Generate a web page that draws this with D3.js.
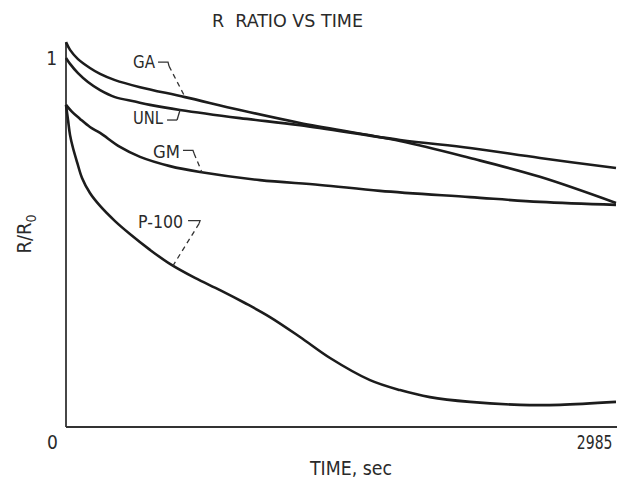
<!DOCTYPE html>
<html>
<head>
<meta charset="utf-8">
<script src="https://cdn.jsdelivr.net/npm/d3@7"></script>
<style>
  html, body { margin: 0; padding: 0; background: #fff; }
  svg text { font-family: "DejaVu Sans Condensed", "DejaVu Sans", sans-serif; fill: #2a2a2a; white-space: pre; }
</style>
</head>
<body>
<svg id="chart" width="617" height="482"></svg>
<script>
// ---- data (time in sec, R/R0) ----
const title = "R  RATIO VS TIME";
const xLabel = "TIME, sec";
const xTicks = [0, 2985];
const yTicks = [1];

const gaTime  = [0, 22, 65, 130, 185, 266, 402, 646, 944, 1270, 1813, 2193, 2572, 2985];
const gaVal   = [1.043, 1.022, 0.997, 0.973, 0.957, 0.940, 0.921, 0.894, 0.859, 0.824, 0.775, 0.729, 0.678, 0.607];

const unlTime = [0, 22, 65, 119, 185, 266, 374, 456, 619, 944, 1270, 1813, 2193, 2572, 2985];
const unlVal  = [1.000, 0.984, 0.959, 0.935, 0.913, 0.894, 0.882, 0.873, 0.859, 0.837, 0.818, 0.778, 0.756, 0.729, 0.702];

const gmTime  = [0, 33, 76, 130, 185, 293, 402, 564, 727, 1053, 1378, 1704, 2193, 2572, 2985];
const gmVal   = [0.873, 0.854, 0.835, 0.813, 0.797, 0.759, 0.732, 0.707, 0.691, 0.669, 0.656, 0.640, 0.623, 0.610, 0.602];

const p100Time = [0, 11, 22, 38, 60, 87, 130, 185, 266, 347, 456, 564, 700, 836, 971, 1107, 1270, 1433, 1650, 1813, 1975, 2193, 2464, 2681, 2985];
const p100Val  = [0.873, 0.832, 0.791, 0.756, 0.718, 0.675, 0.634, 0.599, 0.558, 0.523, 0.480, 0.442, 0.404, 0.371, 0.336, 0.298, 0.244, 0.187, 0.127, 0.100, 0.081, 0.068, 0.060, 0.060, 0.068];

const seriesNames = ["GA", "UNL", "GM", "P-100"];
const labelTimes  = [646, 619, 738, 581];   // where each label's leader touches its curve

// ---- drawing ----
const svg = d3.select("#chart");
const x = d3.scaleLinear().domain([0, 2985]).range([66, 616]);
const y = d3.scaleLinear().domain([0, 1]).range([427, 58]);

const series = [
  { name: "GA", t: gaTime, v: gaVal },
  { name: "UNL", t: unlTime, v: unlVal },
  { name: "GM", t: gmTime, v: gmVal },
  { name: "P-100", t: p100Time, v: p100Val }
].map(s => ({ name: s.name, pts: s.t.map((t, i) => [t, s.v[i]]) }));

function fit(sel, len) { return sel.attr("textLength", len).attr("lengthAdjust", "spacingAndGlyphs"); }

// title
fit(svg.append("text").attr("x", 212).attr("y", 27).attr("font-size", 18).text(title), 151);

// axes
const axisColor = "#333";
const gx = svg.append("g").attr("transform", `translate(0,${y(0)})`)
  .call(d3.axisBottom(x).tickValues(xTicks).tickSize(0).tickPadding(9).tickFormat(d3.format("d")));
gx.select(".domain").remove();
gx.attr("font-family", null);
gx.selectAll(".tick text").attr("font-size", 19).attr("fill", "#2a2a2a")
  .attr("text-anchor", d => d === 0 ? "middle" : "end")
  .attr("dx", d => d === 0 ? -14 : -4 / 0.82)
  .attr("transform", d => d === 0 ? null : "scale(0.82,1)");

const gy = svg.append("g").attr("transform", `translate(${x(0)},0)`)
  .call(d3.axisLeft(y).tickValues(yTicks).tickSize(0).tickPadding(9).tickFormat(d3.format("d")));
gy.select(".domain").remove();
gy.attr("font-family", null);
gy.selectAll(".tick text").attr("font-size", 19).attr("fill", "#2a2a2a");

svg.append("line").attr("x1", x(0)).attr("x2", x(0)).attr("y1", y(0)).attr("y2", y(1.043))
  .attr("stroke", axisColor).attr("stroke-width", 1.8);
svg.append("line").attr("x1", x(0)).attr("x2", 617).attr("y1", y(0)).attr("y2", y(0))
  .attr("stroke", axisColor).attr("stroke-width", 1.8);

// axis titles
fit(svg.append("text").attr("x", 310).attr("y", 475).attr("font-size", 20).text(xLabel), 82);
const yl = svg.append("text").attr("transform", "translate(31,234) rotate(-90)")
  .attr("text-anchor", "middle").attr("font-size", 20);
yl.append("tspan").text("R/R");
yl.append("tspan").attr("font-size", 14).attr("dy", 5).text("0");

// curves
const line = d3.line().x(d => x(d[0])).y(d => y(d[1])).curve(d3.curveCatmullRom.alpha(0.5));
svg.selectAll("path.curve").data(series).join("path")
  .attr("class", "curve")
  .attr("d", d => line(d.pts))
  .attr("fill", "none").attr("stroke", "#1c1c1c").attr("stroke-width", 2.6)
  .attr("stroke-linejoin", "round");

// labels with leaders
function valueAt(pts, t) {
  const i = d3.bisector(d => d[0]).right(pts, t);
  const a = pts[i - 1], b = pts[i];
  return a[1] + (b[1] - a[1]) * (t - a[0]) / (b[0] - a[0]);
}
const labelStyle = [
  { text: [-30, -35.5], len: 22, hook: [[-27, -35], [-17, -35], [-16, -31]], dashed: true },
  { text: [-17, 7], len: 30, hook: [[-13, 10], [-3, 10]], dashed: false },
  { text: [-22, -21], len: 27, hook: [[-19, -22], [-9, -22], [-8, -19]], dashed: true },
  { text: [10, -44], len: 45, hook: [[15, -45], [27, -45], [26, -42]], dashed: true }
];
series.forEach((s, i) => {
  const t = labelTimes[i];
  const ax = x(t), ay = y(valueAt(s.pts, t));
  const st = labelStyle[i];
  fit(svg.append("text").attr("x", ax + st.text[0]).attr("y", ay + st.text[1] + 6.5)
    .attr("text-anchor", "end")
    .attr("font-size", 18).text(seriesNames[i]), st.len);
  const hk = st.hook.map(p => [ax + p[0], ay + p[1]]);
  svg.append("path").attr("d", d3.line()(hk.slice(0, 2).concat(st.dashed ? [hk[2]] : [])))
    .attr("fill", "none").attr("stroke", "#333").attr("stroke-width", 1.3);
  const last = hk[hk.length - 1];
  svg.append("line").attr("x1", last[0]).attr("y1", last[1]).attr("x2", ax).attr("y2", ay)
    .attr("stroke", "#333").attr("stroke-width", 1.3)
    .attr("stroke-dasharray", st.dashed ? "5,4" : null);
});
</script>
</body>
</html>
